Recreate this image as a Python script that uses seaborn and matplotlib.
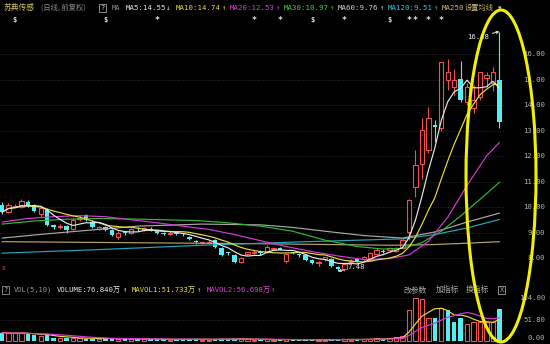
import numpy as np
import pandas as pd
import matplotlib
matplotlib.use('Agg')
import matplotlib.pyplot as plt
import matplotlib.transforms as mtransforms
from matplotlib.patches import Ellipse
import seaborn as sns

# ---------------- data ----------------
opens = [10.08, 9.80, 10.00, 10.00, 10.20, 10.08, 9.72, 9.90, 9.28, 9.20,
         9.25, 9.15, 9.52, 9.68, 9.42, 9.15, 9.20, 9.10, 8.82, 9.02,
         8.98, 9.14, 9.10, 9.15, 9.05, 9.00, 8.95, 9.00, 8.98, 8.82,
         8.65, 8.58, 8.60, 8.70, 8.40, 8.22, 8.12, 7.85, 8.15, 8.20,
         8.22, 8.25, 8.35, 8.38, 7.90, 8.22, 8.14, 8.12, 7.92, 7.82,
         7.95, 7.95, 7.66, 7.55, 7.85, 7.95, 7.96, 7.92, 8.15, 8.26,
         8.30, 8.28, 8.39, 9.02, 10.80, 11.70, 12.25, 13.22, 13.10, 15.00,
         14.70, 15.02, 14.12, 13.88, 14.31, 15.05, 14.87, 14.98]
highs = [10.20, 10.15, 10.12, 10.30, 10.26, 10.12, 10.00, 9.95, 9.32, 9.35,
         9.30, 9.55, 9.68, 9.72, 9.50, 9.25, 9.25, 9.12, 9.05, 9.05,
         9.18, 9.20, 9.22, 9.20, 9.10, 9.03, 9.05, 9.02, 9.00, 8.85,
         8.70, 8.68, 8.70, 8.75, 8.42, 8.25, 8.15, 8.05, 8.25, 8.30,
         8.30, 8.50, 8.45, 8.42, 8.20, 8.25, 8.20, 8.15, 7.95, 7.90,
         8.05, 8.00, 7.70, 7.80, 7.95, 8.00, 8.08, 8.25, 8.38, 8.35,
         8.45, 8.45, 8.75, 10.30, 12.25, 13.50, 13.92, 13.40, 15.70, 15.80,
         15.40, 15.72, 14.86, 14.80, 15.30, 15.30, 15.49, 16.88]
lows = [9.72, 9.75, 9.95, 9.95, 10.00, 9.82, 9.62, 9.25, 9.15, 9.12,
        8.98, 9.10, 9.45, 9.45, 9.18, 9.08, 9.05, 8.85, 8.76, 8.90,
        8.95, 9.05, 9.05, 9.05, 8.95, 8.90, 8.90, 8.90, 8.88, 8.70,
        8.55, 8.55, 8.56, 8.40, 8.08, 8.12, 7.82, 7.80, 8.10, 8.15,
        8.12, 8.20, 8.30, 8.30, 7.82, 8.15, 8.05, 7.90, 7.75, 7.70,
        7.90, 7.65, 7.48, 7.50, 7.80, 7.85, 7.90, 7.88, 8.10, 8.18,
        8.25, 8.25, 8.35, 8.71, 10.40, 11.10, 12.10, 12.55, 13.00, 14.60,
        14.40, 14.12, 14.00, 13.70, 14.20, 14.70, 14.55, 13.10]
closes = [9.80, 10.08, 10.05, 10.24, 10.05, 9.85, 9.95, 9.30, 9.22, 9.25,
          9.10, 9.50, 9.58, 9.48, 9.22, 9.20, 9.10, 8.90, 9.00, 8.98,
          9.12, 9.12, 9.16, 9.10, 8.98, 8.96, 9.00, 8.95, 8.93, 8.74,
          8.62, 8.63, 8.64, 8.43, 8.12, 8.18, 7.85, 8.00, 8.22, 8.25,
          8.18, 8.45, 8.38, 8.33, 8.15, 8.18, 8.10, 7.92, 7.80, 7.86,
          8.02, 7.70, 7.57, 7.77, 7.90, 7.90, 8.02, 8.20, 8.31, 8.22,
          8.40, 8.39, 8.71, 10.27, 11.65, 13.02, 13.50, 13.12, 15.69, 15.30,
          14.98, 14.20, 14.70, 14.20, 15.30, 15.18, 15.28, 13.33]
volumes = [20, 18.5, 18.5, 20, 16, 14.5, 12, 16, 7, 6.5,
           8, 7.5, 6.5, 6, 6, 5, 5.5, 6, 5.5, 4.5,
           5, 4, 4.5, 4, 5, 4, 3.5, 4, 4.5, 5,
           4, 3.5, 3.5, 5, 6, 4, 6, 4.5, 4, 3.5,
           3, 4, 3, 2.5, 4, 3, 2.5, 3, 3.5, 2.5,
           3, 4, 4.5, 4, 3.5, 3, 4, 6, 7, 4,
           8, 9, 11, 75, 103, 101, 55, 55, 80, 75,
           46.5, 55, 40, 46.5, 46.5, 45, 46.5, 76.84]
vol_down_extra = [69, 70]          # volume bars shown cyan although the candle rose

# longer moving averages (candle index -> value)
ma20_idx = [0, 4, 8, 12, 16, 20, 24, 28, 32, 36, 40, 44, 48, 52, 56, 60, 63, 66, 69, 72, 75, 77]
ma20_val = [9.41, 9.55, 9.62, 9.66, 9.62, 9.50, 9.38, 9.25, 9.12, 8.92, 8.68, 8.45, 8.25, 8.08,
            7.94, 7.98, 8.12, 8.65, 9.60, 10.85, 12.00, 12.53]
ma30_idx = [0, 5, 10, 15, 20, 25, 30, 35, 40, 45, 50, 55, 59, 62, 65, 68, 71, 74, 77]
ma30_val = [9.33, 9.45, 9.52, 9.55, 9.53, 9.50, 9.47, 9.38, 9.25, 9.05, 8.70, 8.45, 8.35, 8.38,
            8.60, 9.05, 9.65, 10.30, 10.97]
ma60_idx = [0, 7, 14, 21, 31, 40, 45, 50, 56, 62, 67, 72, 77]
ma60_val = [8.78, 8.95, 9.10, 9.25, 9.33, 9.30, 9.20, 9.05, 8.88, 8.78, 9.02, 9.41, 9.76]
ma120_idx = [0, 15, 31, 46, 62, 67, 72, 77]
ma120_val = [8.19, 8.33, 8.50, 8.63, 8.75, 8.92, 9.18, 9.51]
ma250_idx = [0, 20, 40, 60, 66, 72, 77]
ma250_val = [8.64, 8.60, 8.56, 8.50, 8.52, 8.58, 8.64]

price_ticks = [8, 9, 10, 11, 12, 13, 14, 15, 16]
price_labels = ['8.00', '9.00', '10.00', '11.00', '12.00', '13.00', '14.00', '15.00', '16.00']
vol_ticks = [0, 51.8, 104]
vol_labels = ['0.00', '51.80', '104.00']

event_idx = [2, 16, 24, 39, 43, 48, 53, 60, 63, 64, 66, 68]
event_sym = ['$', '$', '*', '*', '*', '$', '*', '$', '*', '*', '*', '*']

# ---------------- style ----------------
sns.set_theme(style='dark', rc={'axes.facecolor': 'black', 'figure.facecolor': 'black',
                                'savefig.facecolor': 'black'})
plt.rcParams['font.family'] = ['DejaVu Sans Mono', 'Noto Sans CJK SC', 'DejaVu Sans']
CJK = ['Noto Sans CJK SC', 'DejaVu Sans']

UP = '#f05050'
DN = '#52eef2'
C_MA5, C_MA10, C_MA20 = '#e8e8e8', '#e6dc3c', '#d838d8'
C_MA30, C_MA60, C_MA120, C_MA250 = '#34b834', '#a8a8a8', '#22a8ba', '#b4a46a'
GRID = '#3a3a3a'
AXT = '#b0b0b0'

W, H = 550, 344
fig = plt.figure(figsize=(W / 100, H / 100), dpi=100)


def fx(px):
    return px / W


def fy(py):
    return 1 - py / H


STEP = 6.46
xmin, xmax = -2 / STEP, 503 / STEP

ax = fig.add_axes([0, fy(281), fx(505), (281 - 16) / H])
axv = fig.add_axes([0, 0, fx(505), (344 - 283) / H])
for a in (ax, axv):
    a.set_facecolor('black')
    a.set_xlim(xmin, xmax)
    a.set_xticks([])
    a.set_yticks([])
    a.grid(False)
    for s in a.spines.values():
        s.set_visible(False)
ax.set_ylim(8 + (258 - 281) / 25.5, 8 + (258 - 16) / 25.5)
axv.set_ylim(-3 * 2.41, (341 - 283) * 2.41)

for p in price_ticks:
    ax.axhline(p, color=GRID, lw=0.6, ls=(0, (1, 2)), zorder=0)
for v in vol_ticks[1:]:
    axv.axhline(v, color=GRID, lw=0.6, ls=(0, (1, 2)), zorder=0)

# ---------------- candles ----------------
o, h, l, c = map(np.array, (opens, highs, lows, closes))
n = len(c)
idx = np.arange(n)
up = c >= o
blo = np.minimum(o, c)
bhi = np.maximum(o, c)
bh = np.maximum(bhi - blo, 0.035)
BW = 0.68

ax.vlines(idx[up], l[up], blo[up], color=UP, lw=0.8, zorder=2)
ax.vlines(idx[up], bhi[up], h[up], color=UP, lw=0.8, zorder=2)
ax.bar(idx[up], bh[up], bottom=blo[up], width=BW, facecolor='black', edgecolor=UP, lw=0.8, zorder=2)
ax.vlines(idx[~up], l[~up], h[~up], color=DN, lw=0.8, zorder=2)
ax.bar(idx[~up], bh[~up], bottom=blo[~up], width=BW, color=DN, lw=0, zorder=2)

# ---------------- moving averages ----------------
cs = pd.Series(c)
ma5 = cs.rolling(5, min_periods=1).mean()
ma10 = cs.rolling(10, min_periods=1).mean()
lines = [(ma250_idx, ma250_val, C_MA250), (ma120_idx, ma120_val, C_MA120),
         (ma60_idx, ma60_val, C_MA60), (ma30_idx, ma30_val, C_MA30),
         (ma20_idx, ma20_val, C_MA20), (idx, ma10.values, C_MA10), (idx, ma5.values, C_MA5)]
for xs, ys, col in lines:
    sns.lineplot(x=list(xs), y=list(ys), ax=ax, color=col, lw=0.85, legend=False, zorder=3)
ax.set_xlabel('')
ax.set_ylabel('')

# high / low annotations
ax.annotate('16.88', xy=(77, 16.88), xytext=(75.4, 16.67), ha='right', va='center',
            color='#e6e6e6', fontsize=5.2,
            arrowprops=dict(arrowstyle='->', color='#e6e6e6', lw=0.7, shrinkA=0, shrinkB=0,
                            mutation_scale=4))
ax.annotate('7.48', xy=(52, 7.48), xytext=(53.5, 7.64), ha='left', va='center',
            color='#e6e6e6', fontsize=5.2,
            arrowprops=dict(arrowstyle='->', color='#e6e6e6', lw=0.7, shrinkA=0, shrinkB=0,
                            mutation_scale=4))

# event markers row
ev_tr = mtransforms.blended_transform_factory(ax.transData, fig.transFigure)
for i, s in zip(event_idx, event_sym):
    ax.text(i, fy(20), s, transform=ev_tr, ha='center', va='center', color='#e0e0e0',
            fontsize=5.0 if s == '$' else 6.0, fontweight='bold', clip_on=False)

# small red marker at bottom-left
fig.text(fx(3.5), fy(268), '8', color='#e03030', fontsize=4.5, ha='center', va='center')

# ---------------- volume ----------------
vol = np.array(volumes, dtype=float)
vup = up.copy()
vup[vol_down_extra] = False
axv.bar(idx[vup], vol[vup], width=BW, facecolor='black', edgecolor=UP, lw=0.8, zorder=2)
axv.bar(idx[~vup], vol[~vup], width=BW, color=DN, lw=0, zorder=2)
vs = pd.Series(vol)
mavol1 = vs.rolling(5, min_periods=1).mean()
mavol2 = vs.rolling(10, min_periods=1).mean()
sns.lineplot(x=idx, y=mavol1.values, ax=axv, color=C_MA10, lw=0.85, legend=False, zorder=3)
sns.lineplot(x=idx, y=mavol2.values, ax=axv, color=C_MA20, lw=0.85, legend=False, zorder=3)
axv.set_xlabel('')
axv.set_ylabel('')

# ---------------- right axis labels ----------------
tr_p = mtransforms.blended_transform_factory(fig.transFigure, ax.transData)
for p, s in zip(price_ticks, price_labels):
    ax.text(fx(545), p, s, transform=tr_p, ha='right', va='center', color=AXT,
            fontsize=5.2, clip_on=False)
tr_v = mtransforms.blended_transform_factory(fig.transFigure, axv.transData)
for v, s in zip(vol_ticks, vol_labels):
    axv.text(fx(545), v, s, transform=tr_v, ha='right', va='bottom' if v == 0 else 'center',
             color=AXT, fontsize=5.2, clip_on=False)

# ---------------- header texts ----------------
def t(px, py, s, col, size=5.3, fam=None, **kw):
    fig.text(fx(px), fy(py), s, color=col, fontsize=size, ha='left', va='center',
             family=fam if fam else plt.rcParams['font.family'], **kw)


t(3, 8, '苏典传感', '#d2c262', 5.6, CJK)
t(41, 8, '(日线, 前复权)', '#8c8c8c', 5.2, CJK)
t(100.5, 8, '?', '#c8c8c8', 5.2, bbox=dict(boxstyle='square,pad=0.15', fc='black', ec='#a0a0a0', lw=0.6))
t(112, 8, 'MA', '#8c8c8c', 5.0)
t(126, 8, 'MA5:14.55', C_MA5)
t(166, 8, '↓', C_MA5)
t(176, 8, 'MA10:14.74', C_MA10)
t(222, 8, '↑', C_MA10)
t(230, 8, 'MA20:12.53', '#e040e0')
t(276, 8, '↑', '#e040e0')
t(284, 8, 'MA30:10.97', '#40d040')
t(330, 8, '↑', '#40d040')
t(338, 8, 'MA60:9.76', '#d0d0d0')
t(380, 8, '↑', '#d0d0d0')
t(388, 8, 'MA120:9.51', '#30c8d8')
t(434, 8, '↑', '#30c8d8')
t(442, 8, 'MA250', '#c8b878')
t(465, 8, '设置均线', '#c8b878', 5.2, CJK)
t(498, 8, '▾', '#c8c8c8', 5.0, ['DejaVu Sans'])

# volume header
t(3.5, 290, '?', '#b0b0b0', 5.0, bbox=dict(boxstyle='square,pad=0.15', fc='black', ec='#909090', lw=0.6))
t(14, 290, 'VOL(5,10)', '#9a9a9a', 5.0)
t(57, 290, 'VOLUME:76.840万', '#e8e8e8', 5.2)
t(123, 290, '↑', '#e8e8e8')
t(132, 290, 'MAVOL1:51.733万', C_MA10, 5.2)
t(197, 290, '↑', C_MA10)
t(207, 290, 'MAVOL2:56.698万', '#e040e0', 5.2)
t(271, 290, '↑', '#e040e0')
t(404, 290, '改参数', '#a8a8a8', 5.6, CJK)
t(436, 290, '加指标', '#a8a8a8', 5.6, CJK)
t(466, 290, '换指标', '#a8a8a8', 5.6, CJK)
t(499.5, 290, 'X', '#a0a0a0', 5.0, bbox=dict(boxstyle='square,pad=0.15', fc='black', ec='#a0a0a0', lw=0.6))

# yellow hand-drawn ellipse highlighting the last candles
ell = Ellipse((fx(501), fy(176)), width=70 / W, height=332 / H, transform=fig.transFigure,
              fill=False, edgecolor='#f0f000', lw=2.2, zorder=20)
fig.add_artist(ell)

fig.savefig('out.png', dpi=100, facecolor='black')
